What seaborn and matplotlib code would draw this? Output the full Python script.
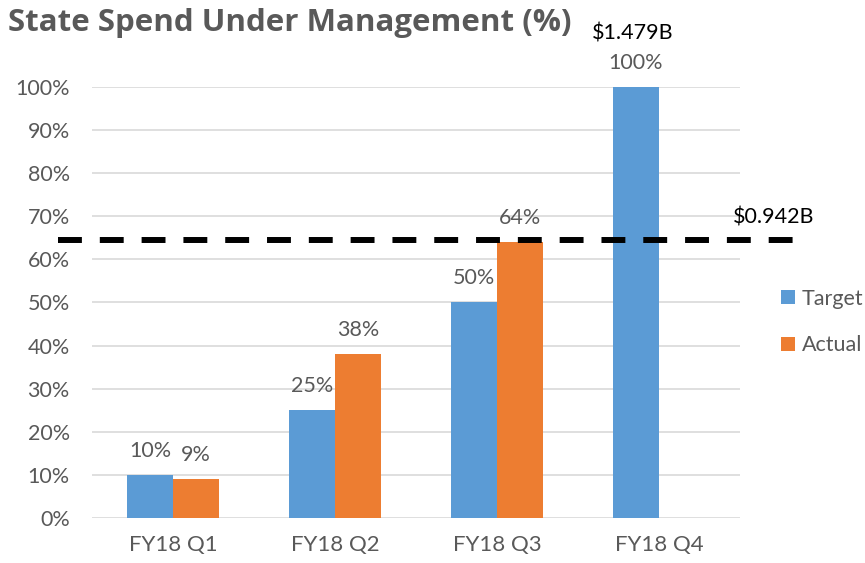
import matplotlib
matplotlib.use("Agg")
import matplotlib.pyplot as plt
import matplotlib.transforms as mtransforms
from matplotlib.patches import Patch
import pandas as pd
import seaborn as sns

# chart data
quarters = ["FY18 Q1", "FY18 Q2", "FY18 Q3", "FY18 Q4"]
target = [10, 25, 50, 100]
actual = [9, 38, 64, None]
series = ["Target", "Actual"]
colors = ["#5B9BD5", "#ED7D31"]
threshold = 64.4
threshold_label = "$0.942B"
total_label = "$1.479B"
yticks = list(range(0, 101, 10))

GRAY = "#595959"
FS = 15.5

sns.set_style("white")
plt.rcParams["font.family"] = ["Lato", "DejaVu Sans"]

rows = []
for q, t, a in zip(quarters, target, actual):
    rows.append({"quarter": q, "series": "Target", "value": t})
    if a is not None:
        rows.append({"quarter": q, "series": "Actual", "value": a})
df = pd.DataFrame(rows)

fig = plt.figure(figsize=(8.65, 5.63), dpi=100)
ax = fig.add_axes([0.1064, 0.0799, 0.7491, 0.7656])

sns.barplot(data=df, x="quarter", y="value", hue="series", order=quarters,
            hue_order=series, palette=colors, width=0.568, gap=0,
            saturation=1, ax=ax, legend=False, edgecolor="none")

ax.set_xlim(-0.5, 3.5)
ax.set_ylim(0, 100)
ax.set_yticks(yticks)
ax.set_yticklabels([f"{v}%" for v in yticks])
ax.grid(axis="y", color="#D9D9D9", linewidth=1.2)
ax.set_axisbelow(True)
for s in ax.spines.values():
    s.set_visible(False)
ax.tick_params(axis="y", length=0, pad=16, labelsize=FS, labelcolor=GRAY)
ax.tick_params(axis="x", length=0, pad=12, labelsize=16, labelcolor=GRAY)
ax.set_xlabel("")
ax.set_ylabel("")

# value labels over bars
for cont in ax.containers:
    for bar in cont:
        h = bar.get_height()
        if pd.isna(h) or h == 0:
            continue
        ax.annotate(f"{h:.0f}%", (bar.get_x() + bar.get_width() / 2, h),
                    xytext=(0, 13), textcoords="offset points",
                    ha="center", va="baseline", fontsize=FS, color=GRAY,
                    annotation_clip=False)

# total above last bar
q4_bar = ax.containers[0][3]
ax.annotate(total_label, (q4_bar.get_x() + q4_bar.get_width() / 2, 100),
            xytext=(-2, 34), textcoords="offset points",
            ha="center", va="baseline", fontsize=FS, color="black",
            annotation_clip=False)

# dashed threshold line
trans = mtransforms.blended_transform_factory(ax.transAxes, ax.transData)
ax.plot([-0.052, 1.09], [threshold, threshold], transform=trans,
        color="black", linewidth=4.3, dashes=(4, 3), clip_on=False, zorder=5)
ax.text(1.052, threshold + 3.9, threshold_label, transform=trans,
        ha="center", va="baseline", fontsize=FS, color="black")

handles = [Patch(facecolor=c, edgecolor="none") for c in colors]
fig.legend(handles, series, loc="center left", bbox_to_anchor=(0.903, 0.428),
           frameon=False, fontsize=15.5, labelcolor=GRAY, handlelength=0.66,
           handleheight=0.66, handletextpad=0.3, labelspacing=1.24,
           borderpad=0, borderaxespad=0)

fig.text(0.009, 0.96, "State Spend Under Management (%)", fontsize=22.5,
         fontweight="bold", color=GRAY, family=["Open Sans", "DejaVu Sans"],
         ha="left", va="center")

fig.savefig("out.png", dpi=100)
